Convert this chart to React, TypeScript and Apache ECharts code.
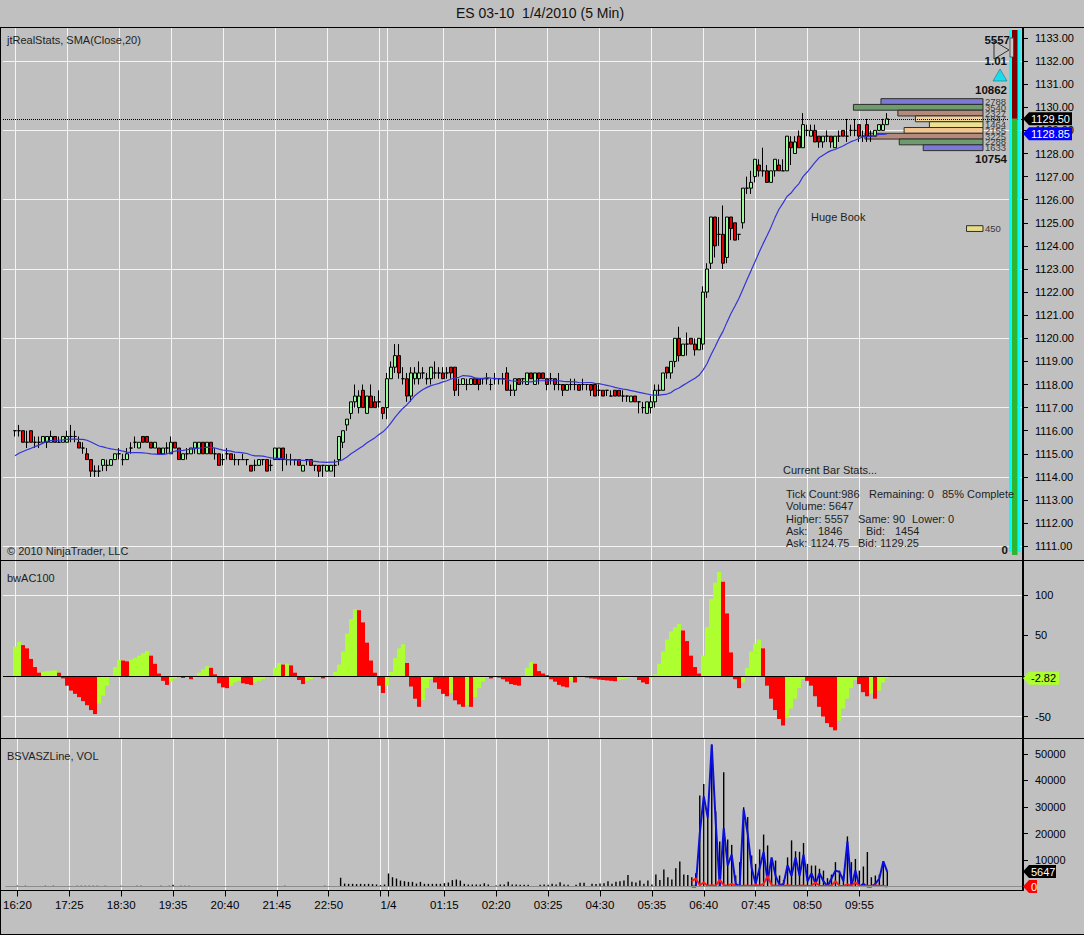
import React, { useEffect, useRef } from "react";
import * as echarts from "echarts";

const FONT = 'Arial, "Liberation Sans", sans-serif';
const BG = "#C0C0C0";
const GRID_LINE = "#F4F4F4";

const SESSION_START = 16 * 60 + 20; // first bar 16:20
const BAR_MINUTES = 5;
const PAD = 3; // empty slots left of the first bar
const SLOTS = 256;

// 5 min bars, each [open, close, low, high]
const eveningBars = [
  [1116.0, 1116.0, 1115.75, 1116.0], [1116.0, 1116.0, 1115.75, 1116.25], [1116.0, 1115.5, 1115.5, 1116.0],
  [1115.5, 1115.5, 1115.25, 1116.0], [1116.0, 1115.5, 1115.5, 1116.0], [1115.5, 1115.5, 1115.25, 1115.75],
  [1115.5, 1115.5, 1115.25, 1115.75], [1115.5, 1115.75, 1115.5, 1115.75], [1115.5, 1115.75, 1115.25, 1115.75],
  [1115.5, 1115.75, 1115.5, 1116.0], [1115.75, 1115.5, 1115.5, 1115.75], [1115.5, 1115.5, 1115.5, 1115.75],
  [1115.5, 1115.75, 1115.5, 1115.75], [1115.5, 1115.75, 1115.5, 1116.0], [1115.75, 1115.75, 1115.5, 1116.25],
  [1115.75, 1115.75, 1115.5, 1116.0], [1115.5, 1115.25, 1115.25, 1115.75], [1115.25, 1115.25, 1115.0, 1115.5],
  [1115.0, 1114.75, 1114.75, 1115.25], [1114.75, 1114.25, 1114.0, 1114.75], [1114.25, 1114.25, 1114.0, 1114.5],
  [1114.25, 1114.25, 1114.0, 1114.5], [1114.5, 1114.75, 1114.25, 1114.75], [1114.5, 1114.5, 1114.25, 1114.75],
  [1114.5, 1114.75, 1114.5, 1114.75], [1114.75, 1115.0, 1114.75, 1115.0], [1115.0, 1115.0, 1114.75, 1115.25],
  [1114.75, 1114.75, 1114.5, 1115.0], [1114.75, 1115.0, 1114.75, 1115.25], [1115.25, 1115.25, 1115.0, 1115.5],
  [1115.5, 1115.5, 1115.25, 1115.75], [1115.25, 1115.5, 1115.25, 1115.5], [1115.75, 1115.5, 1115.5, 1115.75],
  [1115.75, 1115.5, 1115.5, 1115.75], [1115.5, 1115.25, 1115.25, 1115.5], [1115.25, 1115.5, 1115.25, 1115.5],
  [1115.25, 1115.0, 1115.0, 1115.25], [1115.0, 1115.25, 1115.0, 1115.25], [1115.25, 1115.25, 1115.0, 1115.5],
  [1115.0, 1115.5, 1115.0, 1115.75], [1115.5, 1115.25, 1115.25, 1115.5], [1115.25, 1114.75, 1114.75, 1115.25],
  [1114.75, 1115.0, 1114.75, 1115.0], [1115.0, 1115.0, 1114.75, 1115.25], [1115.0, 1115.25, 1115.0, 1115.25],
  [1115.25, 1115.5, 1115.0, 1115.5], [1115.0, 1115.5, 1115.0, 1115.5], [1115.5, 1115.0, 1115.0, 1115.5],
  [1115.0, 1115.5, 1115.0, 1115.5], [1115.5, 1115.0, 1115.0, 1115.5], [1115.0, 1115.0, 1114.75, 1115.25],
  [1115.0, 1114.5, 1114.5, 1115.0], [1114.75, 1114.75, 1114.5, 1115.0], [1115.0, 1115.0, 1114.75, 1115.25],
  [1115.0, 1114.75, 1114.75, 1115.0], [1114.75, 1114.75, 1114.5, 1115.0], [1114.75, 1114.75, 1114.5, 1114.75],
  [1114.75, 1114.75, 1114.75, 1115.0], [1114.75, 1114.75, 1114.5, 1114.75], [1114.5, 1114.25, 1114.25, 1114.5],
  [1114.5, 1114.5, 1114.25, 1114.75], [1114.5, 1114.75, 1114.5, 1114.75], [1114.75, 1114.75, 1114.5, 1114.75],
  [1114.75, 1114.25, 1114.25, 1114.75], [1114.5, 1114.5, 1114.25, 1114.75], [1114.75, 1115.25, 1114.75, 1115.25],
  [1114.75, 1115.25, 1114.75, 1115.25], [1115.25, 1114.75, 1114.25, 1115.25], [1114.75, 1114.75, 1114.5, 1115.0],
  [1114.75, 1114.75, 1114.5, 1115.0], [1114.75, 1114.75, 1114.5, 1114.75], [1114.75, 1114.5, 1114.5, 1114.75],
  [1114.25, 1114.5, 1114.25, 1114.5], [1114.75, 1114.75, 1114.5, 1114.75], [1114.75, 1114.5, 1114.5, 1114.75],
  [1114.5, 1114.5, 1114.25, 1114.5], [1114.5, 1114.25, 1114.0, 1114.5], [1114.5, 1114.5, 1114.0, 1114.5],
  [1114.25, 1114.5, 1114.25, 1114.5], [1114.25, 1114.5, 1114.25, 1114.5], [1114.5, 1114.5, 1114.0, 1114.75],
];

const overnightBars = [
  [1114.75, 1115.75, 1114.5, 1115.75], [1115.5, 1116.0, 1115.25, 1116.0], [1116.25, 1116.5, 1116.0, 1116.5],
  [1116.75, 1117.25, 1116.5, 1117.25], [1117.25, 1117.5, 1117.0, 1118.0], [1117.0, 1117.5, 1116.75, 1117.75],
  [1117.75, 1117.0, 1117.0, 1118.0], [1116.75, 1117.5, 1116.75, 1117.5], [1117.5, 1117.0, 1117.0, 1118.0],
  [1117.25, 1117.0, 1117.0, 1117.5], [1117.25, 1117.25, 1117.0, 1117.75], [1117.0, 1116.75, 1116.5, 1117.0],
  [1117.0, 1118.25, 1116.5, 1118.5], [1118.25, 1118.75, 1118.25, 1119.0], [1118.75, 1119.25, 1118.5, 1119.75],
  [1119.25, 1118.5, 1118.25, 1119.75], [1118.25, 1118.25, 1118.0, 1118.75], [1118.25, 1117.5, 1117.25, 1118.5],
  [1117.5, 1118.5, 1117.25, 1118.75], [1118.25, 1118.5, 1118.0, 1118.75], [1118.25, 1118.5, 1118.0, 1119.0],
  [1118.5, 1118.5, 1118.25, 1118.75], [1118.25, 1118.25, 1118.0, 1118.5], [1118.25, 1118.75, 1118.0, 1118.75],
  [1118.5, 1118.5, 1118.25, 1119.0], [1118.5, 1118.5, 1118.25, 1118.75], [1118.5, 1118.25, 1118.25, 1118.75],
  [1118.5, 1118.5, 1118.25, 1118.75], [1118.75, 1118.5, 1118.25, 1118.75], [1118.75, 1117.75, 1117.5, 1118.75],
  [1118.0, 1118.0, 1117.5, 1118.25], [1118.0, 1118.25, 1118.0, 1118.25], [1118.0, 1118.0, 1117.75, 1118.25],
  [1118.0, 1118.25, 1118.0, 1118.25], [1118.25, 1118.0, 1118.0, 1118.25], [1118.25, 1118.0, 1117.75, 1118.25],
  [1118.25, 1118.25, 1118.0, 1118.25], [1118.25, 1118.25, 1118.0, 1118.5], [1118.0, 1118.0, 1117.75, 1118.25],
  [1118.25, 1118.25, 1118.0, 1118.5], [1118.25, 1118.25, 1118.0, 1118.25], [1118.25, 1118.25, 1118.0, 1118.5],
  [1118.5, 1117.75, 1117.75, 1118.75], [1117.75, 1117.75, 1117.5, 1118.0], [1117.75, 1118.25, 1117.5, 1118.25],
  [1118.25, 1118.0, 1118.0, 1118.25], [1118.25, 1118.25, 1118.0, 1118.25], [1118.0, 1118.5, 1118.0, 1118.5],
  [1118.5, 1118.25, 1118.25, 1118.5], [1118.0, 1118.5, 1118.0, 1118.5], [1118.5, 1118.25, 1118.0, 1118.5],
  [1118.5, 1118.25, 1118.25, 1118.5], [1118.25, 1118.0, 1117.75, 1118.25], [1118.25, 1118.25, 1118.0, 1118.5],
  [1118.25, 1118.0, 1117.75, 1118.25], [1118.0, 1118.0, 1117.75, 1118.5], [1118.0, 1117.75, 1117.5, 1118.0],
  [1117.75, 1118.0, 1117.75, 1118.0], [1118.0, 1118.0, 1117.75, 1118.25], [1118.0, 1118.0, 1117.75, 1118.25],
  [1118.0, 1117.75, 1117.75, 1118.0], [1118.0, 1118.0, 1117.75, 1118.25], [1118.0, 1118.0, 1117.75, 1118.0],
  [1118.0, 1117.75, 1117.5, 1118.0], [1118.0, 1117.5, 1117.5, 1118.0], [1117.75, 1117.75, 1117.5, 1118.0],
  [1117.75, 1117.5, 1117.5, 1117.75], [1117.75, 1117.75, 1117.5, 1117.75], [1117.5, 1117.5, 1117.5, 1117.75],
  [1117.75, 1117.5, 1117.5, 1117.75], [1117.75, 1117.5, 1117.5, 1117.75], [1117.5, 1117.5, 1117.25, 1117.75],
  [1117.5, 1117.5, 1117.25, 1117.5], [1117.25, 1117.5, 1117.25, 1117.5], [1117.5, 1117.25, 1117.25, 1117.5],
  [1117.25, 1117.25, 1116.75, 1117.25], [1117.0, 1117.0, 1116.75, 1117.25], [1116.75, 1117.25, 1116.75, 1117.25],
  [1117.0, 1117.25, 1116.75, 1117.5], [1117.25, 1117.75, 1117.0, 1118.0], [1117.75, 1117.75, 1117.5, 1118.0],
];

const morningBars = [
  [1117.75, 1118.5, 1117.75, 1118.5], [1118.75, 1118.5, 1118.25, 1118.75], [1118.5, 1119.0, 1118.25, 1119.0],
  [1119.0, 1120.0, 1118.75, 1120.0], [1120.0, 1119.25, 1119.0, 1120.5], [1119.25, 1119.75, 1119.25, 1119.75],
  [1119.75, 1119.75, 1119.25, 1120.25], [1120.0, 1119.75, 1119.75, 1120.0], [1119.75, 1119.5, 1119.25, 1120.0],
  [1119.5, 1120.0, 1119.5, 1120.0], [1119.75, 1122.0, 1119.5, 1122.25], [1122.0, 1123.0, 1121.75, 1123.25],
  [1123.25, 1125.25, 1123.0, 1125.25], [1125.25, 1124.0, 1123.5, 1125.25], [1124.5, 1124.5, 1124.0, 1125.25],
  [1124.5, 1123.25, 1123.0, 1125.75], [1123.5, 1125.25, 1123.25, 1125.25], [1125.25, 1124.75, 1124.25, 1125.25],
  [1125.0, 1124.25, 1124.25, 1125.0], [1124.5, 1124.5, 1124.25, 1124.5], [1125.0, 1126.5, 1124.75, 1126.5],
  [1126.5, 1126.5, 1126.25, 1127.0], [1126.5, 1126.75, 1126.25, 1127.25], [1127.0, 1127.75, 1126.75, 1127.75],
  [1127.5, 1127.25, 1127.0, 1127.75], [1127.25, 1127.25, 1127.0, 1128.25], [1127.25, 1126.75, 1126.75, 1127.5],
  [1126.75, 1127.25, 1126.75, 1127.25], [1127.25, 1127.75, 1127.0, 1127.75], [1127.5, 1127.25, 1127.25, 1127.75],
  [1127.25, 1127.25, 1127.25, 1127.75], [1127.25, 1128.75, 1127.25, 1128.75], [1128.5, 1128.25, 1127.5, 1128.75],
  [1128.0, 1128.5, 1128.0, 1128.75], [1128.75, 1128.25, 1128.25, 1129.0], [1128.25, 1129.25, 1128.25, 1129.75],
  [1129.0, 1129.0, 1128.75, 1129.25], [1128.75, 1129.0, 1128.75, 1129.25], [1129.0, 1128.5, 1128.5, 1129.25],
  [1128.75, 1128.5, 1128.25, 1128.75], [1128.5, 1128.75, 1128.25, 1128.75], [1128.75, 1128.75, 1128.5, 1129.0],
  [1128.75, 1128.5, 1128.25, 1128.75], [1128.25, 1128.75, 1128.25, 1128.75], [1128.75, 1128.75, 1128.5, 1129.0],
  [1129.0, 1128.75, 1128.75, 1129.0], [1128.75, 1128.75, 1128.5, 1129.5], [1129.0, 1129.0, 1128.75, 1129.25],
  [1129.0, 1129.0, 1128.75, 1129.5], [1129.25, 1128.75, 1128.5, 1129.25], [1128.75, 1128.75, 1128.5, 1129.0],
  [1129.25, 1128.75, 1128.5, 1129.5], [1128.75, 1128.75, 1128.5, 1129.0], [1128.75, 1129.0, 1128.75, 1129.0],
  [1129.0, 1129.25, 1129.0, 1129.25], [1129.0, 1129.25, 1129.0, 1129.5], [1129.25, 1129.5, 1129.25, 1129.75],
];

// closes of the 19 bars before 16:20, only used to start the SMA
const warmupCloses = [
  1113.75, 1114.0, 1114.0, 1114.25, 1114.0, 1114.25, 1114.0, 1114.25, 1115.0, 1115.25,
  1115.5, 1115.5, 1115.25, 1115.5, 1115.75, 1115.5, 1115.25, 1115.5, 1115.75,
];

// bwAC100, one value per bar
const acValues = [
  36, 42, 38, 34, 21, 11, 4, 5, 6, 6.5,
  7, 4, -3, -12, -18, -22, -26, -31, -36, -42,
  -47, -34, -24, -12, -2, 11, 20, 19, 18, 20,
  22, 25, 28, 31, 25, 15, 3, -6, -11, -7,
  -3, -1, -2.5, -1.5, -4, -2.5, 4, 8, 12, 10,
  2, -9, -14, -15, -12, -8, -6, -9, -10, -11,
  -8, -6, -4, -2, -1, 10, 16, 14, 15, 13,
  4, -5, -10, -6, -4, -1, -0.5, -3, -1, 0.5,
  5, 14, 30, 52, 70, 82, 81, 66, 41, 19,
  4, -12, -21, -12, 5, 22, 34, 39, 16, -13,
  -28, -38, -30, -15, -4, -8, -16, -22, -25, -21,
  -30, -35, -38, -36, -38, -26, -15, -7, -2, -3,
  -1, -2, -4, -7, -10, -11, -12, -2, 10, 17,
  15, 6, 3, 1, -4, -7, -11, -13, -14, -6,
  -8, -1, -0.5, -2, -3, -3.5, -4.5, -5, -5.5, -6,
  -6.5, -5, -4, -3, -2, -1, -5, -8, -10, -3,
  2, 15, 30, 45, 55, 60, 64, 56, 43, 25,
  11, 3, 25, 60, 95, 115, 128, 116, 77, 29,
  -4, -15, -8, 10, 30, 40, 45, 34, -12, -28,
  -42, -53, -61, -52, -40, -28, -15, -4, -6, -12,
  -25, -38, -50, -58, -63, -67, -55, -40, -28, -15,
  -5, -10, -20, -25, -22, -28, -18, -8, -2.82,
];

const volumes = [
  350, 60, 300, 60, 60, 60, 60, 300, 60, 300,
  60, 60, 60, 60, 60, 300, 300, 300, 300, 300,
  300, 60, 300, 60, 60, 60, 300, 60, 60, 60,
  300, 300, 60, 60, 60, 60, 300, 60, 300, 700,
  60, 300, 300, 300, 60, 60, 60, 60, 60, 60,
  60, 60, 60, 60, 60, 60, 60, 60, 60, 60,
  60, 60, 60, 60, 60, 60, 60, 300, 60, 60,
  60, 60, 60, 60, 60, 60, 60, 300, 60, 60,
  60, 3300, 1100, 1000, 1000, 900, 1000, 900, 1000, 900,
  750, 500, 750, 4900, 3500, 3000, 2250, 2000, 1750, 1750,
  1100, 1750, 1000, 1000, 1000, 1000, 1000, 1250, 1500, 2400,
  2650, 2250, 1000, 750, 750, 750, 750, 1250, 750, 60,
  400, 750, 750, 1750, 750, 750, 650, 650, 650, 60,
  60, 650, 750, 650, 1000, 750, 1600, 750, 650, 60,
  650, 1400, 1400, 60, 1000, 900, 1100, 1250, 2000, 1000,
  1750, 2000, 2250, 4300, 1750, 1500, 2250, 1000, 2300, 750,
  4500, 2500, 6400, 3500, 2600, 6900, 9400, 4500, 4300, 3500,
  5000, 34300, 38700, 28700, 53600, 28300, 17000, 43100, 17700, 15700,
  4150, 9200, 29900, 26200, 11700, 8550, 14000, 19600, 15500, 10800,
  9800, 4150, 2500, 11000, 17400, 13300, 13100, 16400, 8550, 7900,
  7900, 6700, 6000, 3150, 4500, 9200, 6000, 4150, 18900, 9200,
  10400, 6000, 7550, 13000, 3500, 4150, 4500, 9550, 5647,
];

// BSVASZLine blue / red lines, from bar 169 on
const LINE_START = 169;
const buyVolume = [
  0, 0, 20000, 34000, 26000, 53600, 24000, 0, 22000, 8000,
  12000, 1000, 0, 29000, 20000, 7000, 1000, 7000, 13000, 2000,
  11000, 4000, 500, 1000, 8000, 4000, 11000, 4000, 12000, 2000,
  5000, 1000, 5000, 2000, 0, 3000, 6000, 5500, 2000, 17000,
  0, 6000, 0, 1000, 0, 0, 1000, 3000, 9500, 5500,
];
const sellVolume = [
  2000, 3000, 500, 1500, 200, 500, 300, 2500, 500, 300,
  1000, 300, 200, 300, 400, 200, 600, 300, 1000, 4000,
  500, 300, 300, 200, 500, 300, 200, 300, 400, 200,
  300, 1500, 300, 200, 300, 200, 2000, 300, 200, 800,
  200, 1500, 300, 200, 300, 200, 400, 300, 200, 0,
];

// order book at the right edge
const bookPrices = [1130.25, 1130.0, 1129.75, 1129.5, 1129.25, 1129.0, 1128.75, 1128.5, 1128.25, 1124.75];
const bookSizes = [2788, 3540, 2327, 1847, 1464, 2155, 3225, 2288, 1633, 450];
const bookColors = [
  "#7B7BD6", "#6E9C6E", "#B48A7C", "#F0D49A", "#EDE08E",
  "#F2C690", "#B48A7C", "#6E9C6E", "#7B7BD6", "#E6DC8C",
];

const priceGridLevels = [1111, 1114, 1117, 1120, 1123, 1126, 1129, 1132];
const acGridLevels = [100, -50];

const axisMarks = [
  ["16:20", "16:20"], ["17:25", "17:25"], ["18:30", "18:30"], ["19:35", "19:35"],
  ["20:40", "20:40"], ["21:45", "21:45"], ["22:50", "22:50"], ["23:55", ""],
  ["00:05", "1/4"], ["01:15", "01:15"], ["02:20", "02:20"], ["03:25", "03:25"],
  ["04:30", "04:30"], ["05:35", "05:35"], ["06:40", "06:40"], ["07:45", "07:45"],
  ["08:50", "08:50"], ["09:55", "09:55"],
];

const allBars = [...eveningBars, ...overnightBars, ...morningBars];
const closes = allBars.map((b) => b[1]);
const smaSource = [...warmupCloses, ...closes];
const smaValues = closes.map((_, k) => smaSource.slice(k, k + 20).reduce((s, v) => s + v, 0) / 20);

const timeOf = (k: number) => {
  const m = (SESSION_START + k * BAR_MINUTES) % 1440;
  return String(Math.floor(m / 60)).padStart(2, "0") + ":" + String(m % 60).padStart(2, "0");
};

const markLabels = new Map<number, string>();
allBars.forEach((_, k) => {
  const hit = axisMarks.find(([t]) => t === timeOf(k));
  if (hit) markLabels.set(k + PAD, hit[1]);
});
const isMark = (i: number) => markLabels.has(i);

const categories = Array.from({ length: SLOTS }, (_, i) => {
  const k = i - PAD;
  return k >= 0 && k < allBars.length ? timeOf(k) : "slot" + i;
});

const xCategory = (gridIndex: number, labels: boolean) => ({
  type: "category",
  gridIndex,
  data: categories,
  boundaryGap: false,
  axisLine: { show: false, onZero: false },
  axisTick: { show: labels, interval: isMark, length: 6, lineStyle: { color: "#000" } },
  axisLabel: {
    show: labels,
    interval: isMark,
    formatter: (_v: string, i: number) => markLabels.get(i) ?? "",
    color: "#000",
    fontSize: 11.5,
    fontFamily: FONT,
    margin: 8,
  },
  splitLine: { show: true, interval: isMark, lineStyle: { color: GRID_LINE, width: 1 } },
});

const yRight = (gridIndex: number, min: number, max: number, step: number, fmt: (v: number) => string) => ({
  type: "value",
  gridIndex,
  position: "right",
  min,
  max,
  minInterval: step,
  maxInterval: step,
  axisLine: { show: true, onZero: false, lineStyle: { color: "#000" } },
  axisTick: { show: true, length: 5, lineStyle: { color: "#000" } },
  axisLabel: {
    color: "#000",
    fontSize: 11,
    fontFamily: FONT,
    margin: 12,
    showMinLabel: false,
    showMaxLabel: false,
    formatter: fmt,
  },
  splitLine: { show: false },
});

const hiddenLine = { symbol: "none", lineStyle: { opacity: 0 }, silent: true };

function buildOption() {
  const last = allBars.length - 1;
  const candleData = allBars.map((b, k) => [k + PAD, b[0], b[1], b[2], b[3]]);
  const smaData = smaValues.map((v, k) => [k + PAD, v]);
  const acData = acValues.map((v, k) => ({
    value: [k + PAD, v],
    itemStyle: { color: k === 0 || v >= acValues[k - 1] ? "#ADFF2F" : "#FF0000" },
  }));
  const volData = volumes.map((v, k) => [k + PAD, v]);
  const buyData = buyVolume.map((v, j) => [j + LINE_START + PAD, v]);
  const sellData = sellVolume.map((v, j) => [j + LINE_START + PAD, v]);

  return {
    animation: false,
    backgroundColor: BG,
    textStyle: { fontFamily: FONT },
    grid: [
      { left: 3, width: 1020, top: 28, height: 532 },
      { left: 3, width: 1020, top: 561, height: 177 },
      { left: 3, width: 1020, top: 739, height: 151.5 },
    ],
    xAxis: [
      xCategory(0, false),
      xCategory(1, false),
      xCategory(2, true),
      { type: "value", gridIndex: 0, inverse: true, min: -1093, max: 26776, show: false, axisLine: { onZero: false } },
    ],
    yAxis: [
      yRight(0, 1110.403, 1133.433, 1, (v) => v.toFixed(2)),
      yRight(1, -76.4, 141.6, 50, (v) => (v === 0 ? "" : String(v))),
      yRight(2, -1509, 55660, 10000, (v) => (v === 0 ? "" : String(v))),
    ],
    series: [
      {
        type: "line",
        xAxisIndex: 0,
        yAxisIndex: 0,
        z: 1,
        data: [smaData[0]],
        ...hiddenLine,
        markLine: {
          z: 1,
          silent: true,
          symbol: "none",
          label: { show: false },
          lineStyle: { color: GRID_LINE, width: 1, type: "solid" },
          data: priceGridLevels.map((v) => ({ yAxis: v })),
        },
      },
      {
        type: "custom",
        xAxisIndex: 3,
        yAxisIndex: 0,
        z: 2,
        silent: true,
        encode: { x: 0, y: 1 },
        data: bookPrices.map((p, i) => [bookSizes[i], p, i]),
        renderItem: (_params: any, api: any) => {
          const size = api.value(0);
          const price = api.value(1);
          const idx = api.value(2);
          const base = api.coord([0, price]);
          const end = api.coord([size, price]);
          const h = api.size([0, 0.25])[1];
          return {
            type: "group",
            children: [
              {
                type: "rect",
                shape: { x: end[0], y: base[1] - h / 2, width: base[0] - end[0], height: h },
                style: { fill: bookColors[idx], stroke: "#2E2E2E", lineWidth: 1 },
              },
              {
                type: "text",
                x: base[0] + 2,
                y: base[1],
                style: {
                  text: String(size),
                  fill: "#3A3A3A",
                  font: `9.5px ${FONT}`,
                  verticalAlign: "middle",
                  textVerticalAlign: "middle",
                },
              },
            ],
          };
        },
      },
      {
        type: "candlestick",
        xAxisIndex: 0,
        yAxisIndex: 0,
        z: 3,
        barWidth: 3,
        encode: { x: 0, y: [1, 2, 3, 4] },
        data: candleData,
        itemStyle: {
          color: "#98FB98",
          color0: "#E00000",
          borderColor: "#000",
          borderColor0: "#000",
          borderColorDoji: "#000",
          borderWidth: 1,
        },
      },
      {
        type: "line",
        xAxisIndex: 0,
        yAxisIndex: 0,
        z: 4,
        data: smaData,
        symbol: "none",
        lineStyle: { color: "#3434D8", width: 1.2 },
        markLine: {
          silent: true,
          symbol: "none",
          label: { show: false },
          lineStyle: { color: "#000", width: 1, type: "dotted" },
          data: [{ yAxis: closes[last] }],
        },
      },
      {
        type: "line",
        xAxisIndex: 1,
        yAxisIndex: 1,
        z: 1,
        data: [[PAD, 0]],
        ...hiddenLine,
        markLine: {
          z: 1,
          silent: true,
          symbol: "none",
          label: { show: false },
          lineStyle: { color: GRID_LINE, width: 1, type: "solid" },
          data: acGridLevels.map((v) => ({ yAxis: v })),
        },
      },
      {
        type: "bar",
        xAxisIndex: 1,
        yAxisIndex: 1,
        barWidth: 4,
        data: acData,
        markLine: {
          silent: true,
          symbol: "none",
          label: { show: false },
          lineStyle: { color: "#000", width: 1, type: "solid" },
          data: [{ yAxis: 0 }],
        },
      },
      {
        type: "bar",
        xAxisIndex: 2,
        yAxisIndex: 2,
        barWidth: 1.4,
        itemStyle: { color: "#000" },
        data: volData,
        markLine: {
          silent: true,
          symbol: "none",
          label: { show: false },
          lineStyle: { color: "#8C8C8C", width: 1, type: "solid" },
          data: [{ yAxis: 0 }],
        },
      },
      {
        type: "line",
        xAxisIndex: 2,
        yAxisIndex: 2,
        data: buyData,
        symbol: "none",
        lineStyle: { color: "#0A10D8", width: 2 },
      },
      {
        type: "line",
        xAxisIndex: 2,
        yAxisIndex: 2,
        data: sellData,
        symbol: "none",
        lineStyle: { color: "#FF1A1A", width: 2 },
      },
    ],
  };
}

const text = (x: number, y: number, str: string, font: string, fill = "#1E1E1E", align = "left") => ({
  type: "text",
  x,
  y,
  z: 60,
  silent: true,
  style: {
    text: str,
    font,
    fill,
    align,
    textAlign: align,
    verticalAlign: "middle",
    textVerticalAlign: "middle",
  },
});

const hline = (y: number, x1: number, x2: number, color = "#000") => ({
  type: "line",
  z: 55,
  silent: true,
  shape: { x1, y1: y, x2, y2: y },
  style: { stroke: color, lineWidth: 1 },
});

const vline = (x: number, y1: number, y2: number, color = "#000") => ({
  type: "line",
  z: 55,
  silent: true,
  shape: { x1: x, y1, x2: x, y2 },
  style: { stroke: color, lineWidth: 1 },
});

const badge = (y: number, str: string, fill: string, color: string, width: number) => ({
  type: "group",
  z: 70,
  silent: true,
  children: [
    {
      type: "polygon",
      z: 70,
      shape: {
        points: [[1023, y], [1029, y - 6.5], [1023 + width, y - 6.5], [1023 + width, y + 6.5], [1029, y + 6.5]],
      },
      style: { fill },
    },
    {
      type: "text",
      z: 71,
      x: 1031,
      y,
      style: { text: str, fill: color, font: `11px ${FONT}`, verticalAlign: "middle", textVerticalAlign: "middle" },
    },
  ],
});

function buildOverlay(chart: any) {
  const last = allBars.length - 1;
  const yP = (v: number) => chart.convertToPixel({ yAxisIndex: 0 }, v) as number;
  const yA = (v: number) => chart.convertToPixel({ yAxisIndex: 1 }, v) as number;
  const yV = (v: number) => chart.convertToPixel({ yAxisIndex: 2 }, v) as number;
  const yLast = yP(closes[last]);
  const f11 = `11px ${FONT}`;
  const bold = `bold 11.5px ${FONT}`;

  return [
    // pane frames
    hline(27.5, 0, 1084),
    hline(560.5, 0, 1084),
    hline(738.5, 0, 1084),
    hline(890.5, 0, 1023),
    hline(934.5, 0, 1084),
    vline(0.5, 27, 935),
    vline(1022.5, 27, 891),

    text(540, 13, "ES 03-10  1/4/2010 (5 Min)", `14px ${FONT}`, "#111", "center"),
    text(7, 40, "jtRealStats, SMA(Close,20)", f11),
    text(7, 551, "© 2010 NinjaTrader, LLC", f11),
    text(7, 578, "bwAC100", f11),
    text(7, 756, "BSVASZLine, VOL", f11),
    text(811, 217, "Huge Book", f11),

    text(783, 470, "Current Bar Stats...", f11),
    text(786, 494, "Tick Count:986", f11),
    text(869, 494, "Remaining: 0", f11),
    text(942, 494, "85% Complete", f11),
    text(786, 506, "Volume: 5647", f11),
    text(786, 519, "Higher: 5557", f11),
    text(858, 519, "Same: 90", f11),
    text(912, 519, "Lower: 0", f11),
    text(786, 531, "Ask:", f11),
    text(818, 531, "1846", f11),
    text(866, 531, "Bid:", f11),
    text(895, 531, "1454", f11),
    text(786, 543, "Ask: 1124.75", f11),
    text(858, 543, "Bid: 1129.25", f11),

    // jtRealStats column at the right edge
    { type: "rect", z: 50, silent: true, shape: { x: 1009, y: 30, width: 3, height: 522 }, style: { fill: "#00FFFF" } },
    { type: "rect", z: 50, silent: true, shape: { x: 1017.5, y: 30, width: 3, height: 522 }, style: { fill: "#00FFFF" } },
    { type: "rect", z: 50, silent: true, shape: { x: 1012, y: 30, width: 5.5, height: yLast - 30 }, style: { fill: "#800000" } },
    { type: "rect", z: 50, silent: true, shape: { x: 1012, y: yLast, width: 5.5, height: 555 - yLast }, style: { fill: "#2FB52F" } },
    { type: "rect", z: 51, silent: true, shape: { x: 1010, y: 38, width: 3.5, height: 19 }, style: { fill: "#C8C8C8", stroke: "#444", lineWidth: 0.8 } },
    { type: "polygon", z: 51, silent: true, shape: { points: [[994, 41], [1009, 50], [994, 59]] }, style: { fill: "none", stroke: "#333", lineWidth: 1 } },
    { type: "polygon", z: 51, silent: true, shape: { points: [[1000, 69], [1007, 81], [993, 81]] }, style: { fill: "#19DDEE", stroke: "#2A6A70", lineWidth: 0.6 } },
    text(1010, 40, "5557", bold, "#111", "right"),
    text(1007, 61, "1.01", bold, "#111", "right"),
    text(1007, 90, "10862", bold, "#111", "right"),
    text(1007, 159, "10754", bold, "#111", "right"),
    text(1008, 550, "0", bold, "#111", "right"),

    // value badges on the axes
    badge(yLast, closes[last].toFixed(2), "#000", "#FFF", 49),
    badge(yP(smaValues[last]), smaValues[last].toFixed(2), "#0000FF", "#FFF", 49),
    badge(yA(acValues[last]), acValues[last].toFixed(2), "#ADFF2F", "#000", 36),
    badge(yV(volumes[last]), String(volumes[last]), "#000", "#FFF", 33),
    badge(yV(sellVolume[sellVolume.length - 1]), String(sellVolume[sellVolume.length - 1]), "#FF0000", "#FFF", 14),
  ];
}

export default function App() {
  const ref = useRef<HTMLDivElement>(null);

  useEffect(() => {
    document.body.style.margin = "0";
    const chart = echarts.init(ref.current, null, { renderer: "svg" });
    chart.setOption(buildOption());
    chart.setOption({ graphic: buildOverlay(chart) });
    return () => {
      chart.dispose();
    };
  }, []);

  return <div ref={ref} style={{ width: 1084, height: 935 }} />;
}
